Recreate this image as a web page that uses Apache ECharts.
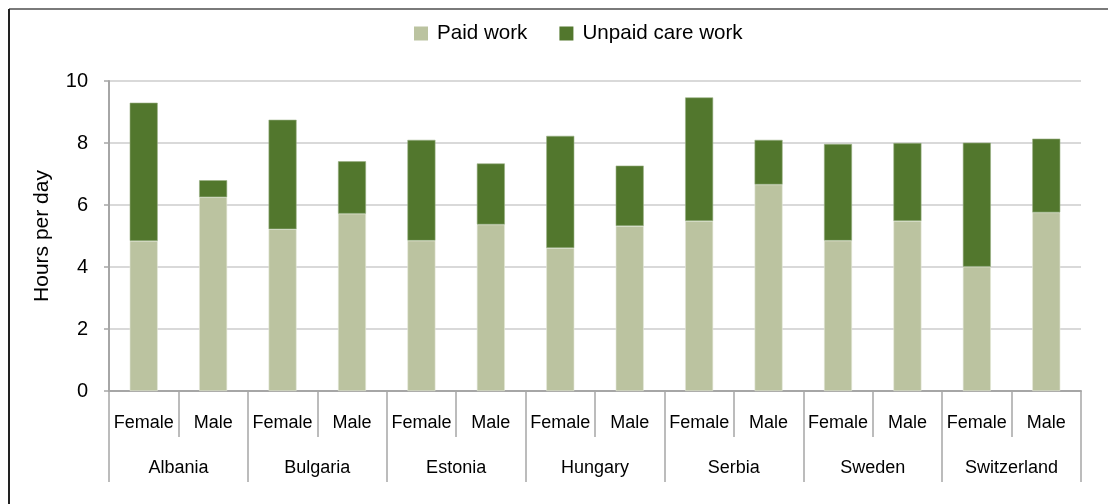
<!DOCTYPE html>
<html>
<head>
<meta charset="utf-8">
<script src="https://cdn.jsdelivr.net/npm/echarts@6/dist/echarts.min.js"></script>
<style>
html,body{margin:0;padding:0;background:#fff;}
#chart{width:1108px;height:504px;}
</style>
</head>
<body>
<div id="chart"></div>
<script>
const countries = ['Albania','Bulgaria','Estonia','Hungary','Serbia','Sweden','Switzerland'];
const sexes = ['Female','Male'];
const paidWork =   [4.84, 6.25, 5.22, 5.72, 4.85, 5.37, 4.61, 5.32, 5.48, 6.66, 4.85, 5.48, 4.01, 5.76];
const unpaidCare = [4.46, 0.55, 3.53, 1.69, 3.25, 1.97, 3.62, 1.95, 3.99, 1.44, 3.12, 2.52, 4.00, 2.38];
const yTicks = [0, 2, 4, 6, 8, 10];

const subCats = [];
countries.forEach(() => sexes.forEach(s => subCats.push(s)));

const FONT = '"Liberation Sans", Arial, Helvetica, sans-serif';
const chart = echarts.init(document.getElementById('chart'));
chart.setOption({
  animation: false,
  textStyle: {fontFamily: FONT, color: '#000'},
  legend: {
    left: 414, top: 23, padding: 0,
    itemWidth: 14, itemHeight: 14, itemGap: 32,
    icon: 'rect',
    itemStyle: {borderWidth: 0},
    textStyle: {fontSize: 20.6, color: '#000', fontFamily: FONT, padding: [0, 0, 0, 4]},
    data: ['Paid work', 'Unpaid care work']
  },
  grid: {left: 109, right: 27, top: 81, bottom: 113, containLabel: false},
  xAxis: [
    {
      type: 'category', data: subCats, position: 'bottom',
      axisLine: {show: true, lineStyle: {color: '#a6a6a6', width: 2}},
      axisTick: {show: true, interval: 0, length: 46, lineStyle: {color: '#a6a6a6', width: 1.5}},
      axisLabel: {interval: 0, fontSize: 18, margin: 23, color: '#000', fontFamily: FONT}
    },
    {
      type: 'category', data: countries, position: 'bottom',
      axisLine: {show: false},
      axisTick: {show: true, interval: 0, length: 91, lineStyle: {color: '#a6a6a6', width: 1.5}},
      axisLabel: {interval: 0, fontSize: 18, margin: 68, color: '#000', fontFamily: FONT}
    }
  ],
  yAxis: {
    type: 'value', min: yTicks[0], max: yTicks[yTicks.length - 1], interval: 2,
    name: 'Hours per day', nameLocation: 'middle', nameGap: 56,
    nameTextStyle: {fontSize: 21, color: '#000', fontFamily: FONT},
    axisLine: {show: true, lineStyle: {color: '#a6a6a6', width: 2}},
    axisTick: {show: true, length: 5, lineStyle: {color: '#a6a6a6', width: 1.5}},
    axisLabel: {fontSize: 20, margin: 21, color: '#000', fontFamily: FONT},
    splitLine: {show: true, lineStyle: {color: '#d9d9d9', width: 2}}
  },
  series: [
    {
      name: 'Paid work', type: 'bar', stack: 'total', xAxisIndex: 0,
      barWidth: 28, data: paidWork,
      itemStyle: {color: '#bbc3a0', borderColor: '#e4e8d8', borderWidth: 0.6}
    },
    {
      name: 'Unpaid care work', type: 'bar', stack: 'total', xAxisIndex: 0,
      barWidth: 28, data: unpaidCare,
      itemStyle: {color: '#52772d', borderColor: '#9bb084', borderWidth: 0.6}
    }
  ],
  graphic: [
    {type: 'line', shape: {x1: 9, y1: 9, x2: 1108, y2: 9}, style: {stroke: '#7a7a7a', lineWidth: 2}, silent: true},
    {type: 'line', shape: {x1: 9, y1: 9, x2: 9, y2: 504}, style: {stroke: '#222', lineWidth: 2}, silent: true}
  ]
});
</script>
</body>
</html>
